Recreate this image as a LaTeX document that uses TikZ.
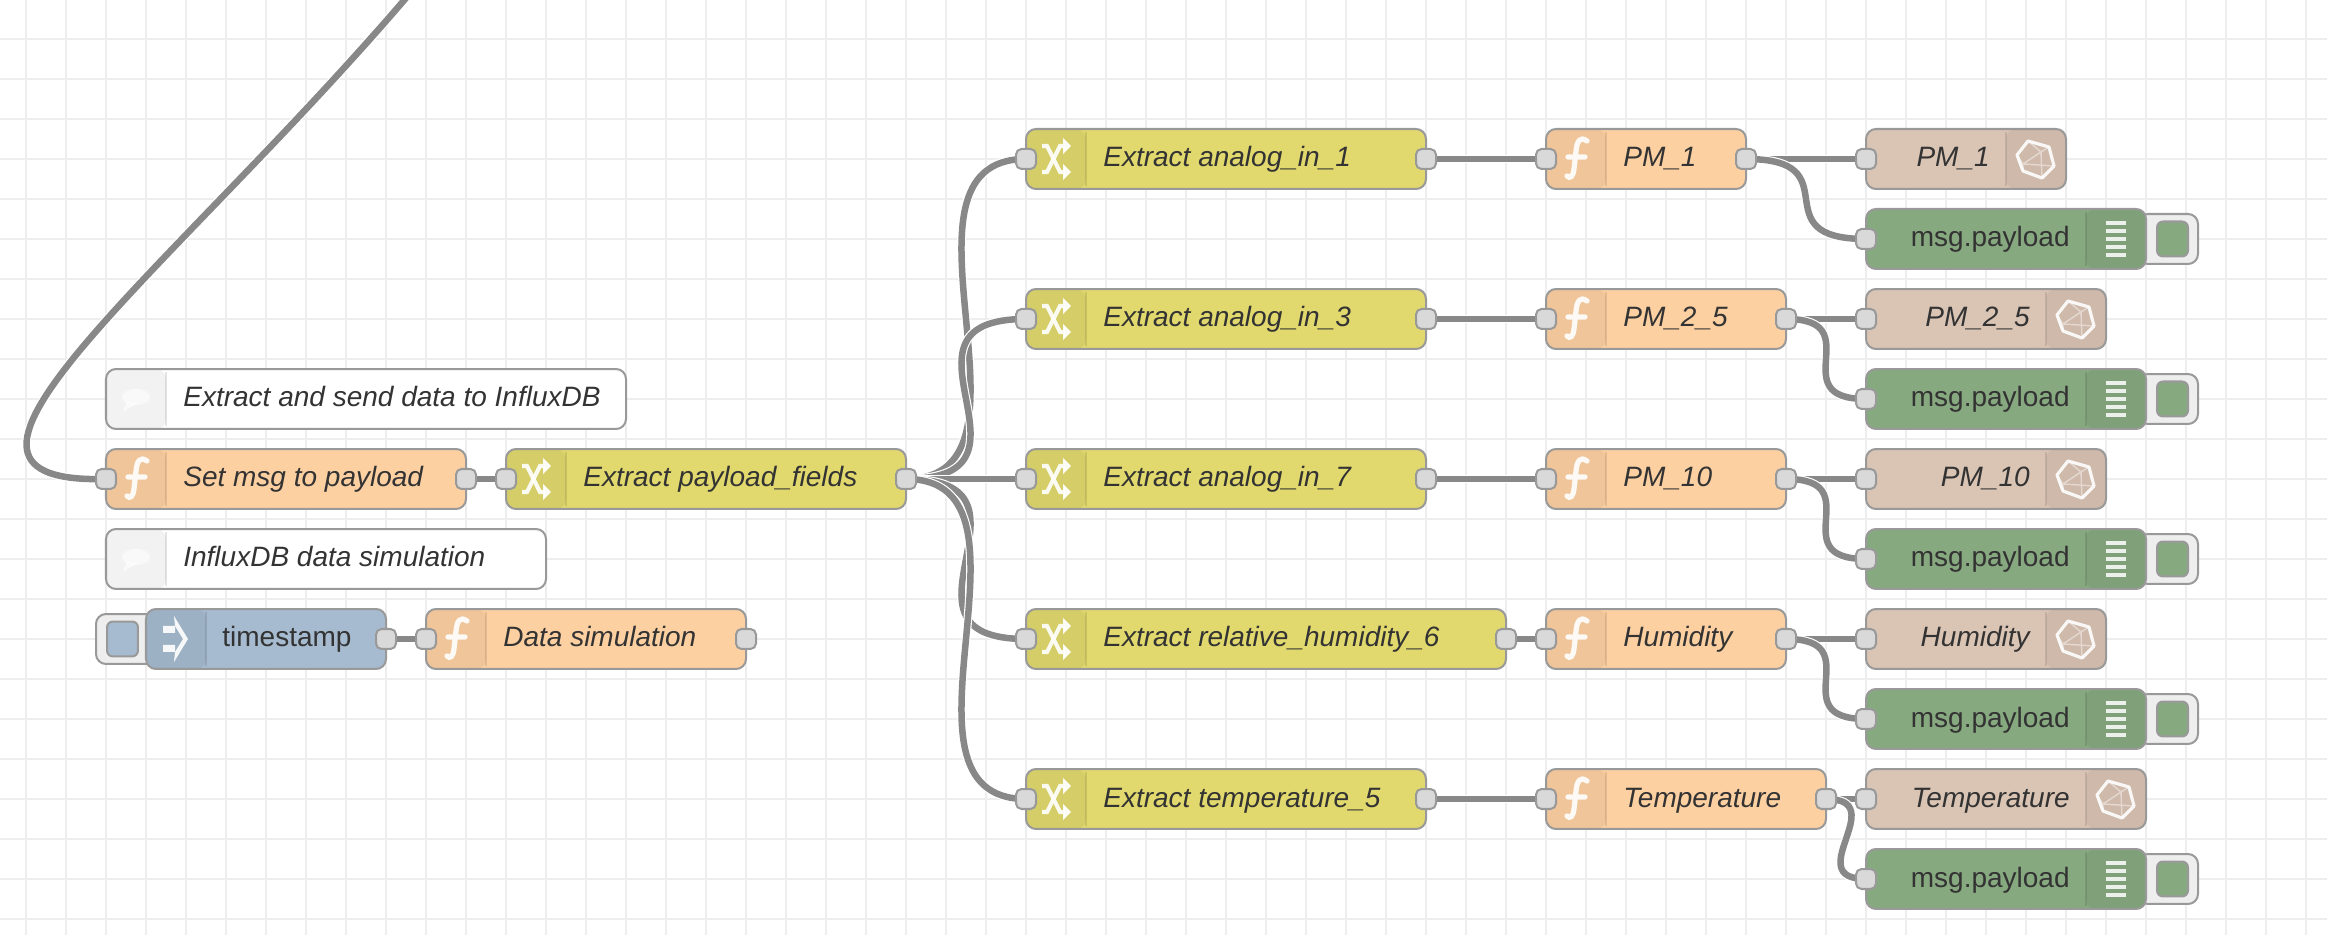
\documentclass[tikz,border=0pt]{standalone}
\usepackage{fontspec}
\setmainfont{Liberation Sans}
\usetikzlibrary{positioning,backgrounds,arrows.meta}
\definecolor{gridcol}{HTML}{EEEEEE}
\definecolor{edgecol}{HTML}{999999}
\definecolor{wirecol}{HTML}{888888}
\definecolor{portcol}{HTML}{D9D9D9}
\definecolor{textcol}{HTML}{333333}
\definecolor{fncol}{HTML}{FDD0A2}
\definecolor{fntab}{HTML}{F0C599}
\definecolor{chcol}{HTML}{E2D96E}
\definecolor{chtab}{HTML}{D5CD68}
\definecolor{cmtab}{HTML}{F2F2F2}
\definecolor{injcol}{HTML}{A6BBCF}
\definecolor{injtab}{HTML}{9DB1C4}
\definecolor{dbcol}{HTML}{87A980}
\definecolor{dbtab}{HTML}{7FA079}
\definecolor{incol}{HTML}{DAC4B4}
\definecolor{intab}{HTML}{CEB9AA}
\definecolor{btncol}{HTML}{EEEEEE}

\tikzset{
  pics/fnicon/.style={code={
    \draw[white,opacity=.9,line width=3pt,line cap=round]
      (11,-18) .. controls (4,-23) and (1,-18) .. (0,-8) -- (-2,10) .. controls (-3,18) and (-6,20) .. (-9,17)
      (-8,-2) -- (9,-2);
  }},
  pics/chicon/.style={code={
    \draw[white,opacity=.9,line width=2.3pt,-{Triangle[length=.16cm,width=.32cm]}]
      (-14,-13) -- (-9,-13) -- (4,13) -- (15,13);
    \draw[white,opacity=.9,line width=2.3pt,-{Triangle[length=.16cm,width=.32cm]}]
      (-14,13) -- (-9,13) -- (4,-13) -- (15,-13);
  }},
  pics/cmicon/.style={code={
    \fill[white,opacity=.6] (0,-2) ellipse (14 and 8);
    \fill[white,opacity=.6] (-9,2) -- (-13,13) -- (0,5) -- cycle;
  }},
  pics/injicon/.style={code={
    \fill[white,opacity=.9] (-13,-13) rectangle (-1,-6) (-13,6) rectangle (-1,13);
    \fill[white,opacity=.9] (-2,-23) -- (12,0) -- (-2,23) -- (-1,13) -- (7,0) -- (-1,-13) -- cycle;
  }},
  pics/dbicon/.style={code={
    \foreach \b in {-16,-8,0,8,16} {
      \draw[white,opacity=.85,line width=2.2pt] (-10,\b) -- (10,\b);
    }
  }},
  pics/inicon/.style={code={
    \draw[white,opacity=.9,line width=1.8pt,line join=round]
      (-7,-18) -- (14,-12) -- (19,7) -- (7,19) -- (-12,12) -- (-18,-4) -- cycle;
    \draw[white,opacity=.45,line width=.8pt]
      (-7,-18) -- (6,-7) -- (14,-12) (6,-7) -- (7,19) (6,-7) -- (-12,5) -- (-18,-4)
      (-12,5) -- (-12,12) (-12,5) -- (19,7);
  }},
}

\begin{document}
\begin{tikzpicture}[
    x=.02cm,y=-.02cm,
    gridline/.style={gridcol,line width=1.14pt},
    wire/.style={wirecol,line width=3.7pt,preaction={draw=white,line width=5pt}},
    flow/.style={rectangle,draw=edgecol,line width=1.14pt,rounded corners=.2cm,minimum height=1.2cm,anchor=west,inner sep=0pt,outer sep=0pt},
    lefttab/.style={path picture={
      \fill[#1] (path picture bounding box.north west) rectangle ++(60,60);
      \draw[black,opacity=.1,line width=1.14pt] ([shift={(60,3)}]path picture bounding box.north west) -- ++(0,54);
    }},
    righttab/.style={path picture={
      \fill[#1] (path picture bounding box.north east) rectangle ++(-60,60);
      \draw[black,opacity=.1,line width=1.14pt] ([shift={(-60,3)}]path picture bounding box.north east) -- ++(0,54);
    }},
    fnnode/.style={flow,fill=fncol,lefttab=fntab},
    chnode/.style={flow,fill=chcol,lefttab=chtab},
    cmnode/.style={flow,fill=white,lefttab=cmtab},
    injnode/.style={flow,fill=injcol,lefttab=injtab},
    dbnode/.style={flow,fill=dbcol,righttab=dbtab},
    innode/.style={flow,fill=incol,righttab=intab},
    port/.style={rectangle,draw=edgecol,fill=portcol,line width=1.14pt,rounded corners=.11cm,minimum size=.4cm,inner sep=0pt},
    btn/.style={rectangle,draw=edgecol,fill=btncol,line width=1.14pt,rounded corners=.2cm,minimum height=1cm,anchor=west,inner sep=0pt},
    btnin/.style={rectangle,draw=edgecol,fill=#1,line width=1.14pt,rounded corners=.12cm,minimum width=.62cm,minimum height=.7cm,inner sep=0pt},
    txt/.style={font=\fontsize{15.94}{18}\selectfont,text=textcol,inner sep=0pt},
    lefttxt/.style={txt,font=\fontsize{15.94}{18}\selectfont\itshape,anchor=base west},
    righttxt/.style={txt,font=\fontsize{15.94}{18}\selectfont\itshape,anchor=base east},
  ]
  \useasboundingbox (0,0) rectangle (2327,935);

  \begin{scope}[on background layer]
    \fill[white] (0,0) rectangle (2327,935);
    \foreach \x in {26,66,...,2306} {
      \draw[gridline] (\x,0) -- (\x,935);
    }
    \foreach \y in {39,79,...,919} {
      \draw[gridline] (0,\y) -- (2327,\y);
    }
  \end{scope}

  % comments
  \foreach \nm/\x/\y/\w/\lab in {cm1/106/399/520/Extract and send data to InfluxDB,cm2/106/559/440/InfluxDB data simulation} {
    \node[cmnode,minimum width=\w*.02cm] (\nm) at (\x,\y) {};
    \pic[shift={(30,0)}] at (\nm.west) {cmicon};
    \node[lefttxt] (\nm-t) at ([shift={(77,8)}]\nm.west) {\lab};
  }

  % function nodes
  \foreach \nm/\x/\y/\w/\lab in {setmsg/106/479/360/Set msg to payload,datasim/426/639/320/Data simulation,
      pm1/1546/159/200/PM\_1,pm25/1546/319/240/PM\_2\_5,pm10/1546/479/240/PM\_10,hum/1546/639/240/Humidity,temp/1546/799/280/Temperature} {
    \node[fnnode,minimum width=\w*.02cm] (\nm) at (\x,\y) {};
    \pic[shift={(30,0)}] at (\nm.west) {fnicon};
    \node[lefttxt] (\nm-t) at ([shift={(77,8)}]\nm.west) {\lab};
    \node[port] (\nm-i) at (\nm.west) {};
    \node[port] (\nm-o) at (\nm.east) {};
  }

  % change nodes
  \foreach \nm/\x/\y/\w/\lab in {expay/506/479/400/Extract payload\_fields,ex1/1026/159/400/Extract analog\_in\_1,ex3/1026/319/400/Extract analog\_in\_3,
      ex7/1026/479/400/Extract analog\_in\_7,exh/1026/639/480/Extract relative\_humidity\_6,ext/1026/799/400/Extract temperature\_5} {
    \node[chnode,minimum width=\w*.02cm] (\nm) at (\x,\y) {};
    \pic[shift={(30,0)}] at (\nm.west) {chicon};
    \node[lefttxt] (\nm-t) at ([shift={(77,8)}]\nm.west) {\lab};
    \node[port] (\nm-i) at (\nm.west) {};
    \node[port] (\nm-o) at (\nm.east) {};
  }

  % inject
  \node[btn,minimum width=1.2cm] (stampb) at (95,639) {};
  \node[btnin=injcol] (stampc) at (122.5,639) {};
  \node[injnode,minimum width=240*.02cm] (stamp) at (146,639) {};
  \pic[shift={(30,0)}] at (stamp.west) {injicon};
  \node[txt,anchor=base west] (stamp-t) at ([shift={(76,8)}]stamp.west) {timestamp};
  \node[port] (stamp-o) at (stamp.east) {};

  % influx outputs
  \foreach \nm/\y/\w/\lab in {in1/159/200/PM\_1,in25/319/240/PM\_2\_5,in10/479/240/PM\_10,inh/639/240/Humidity,int/799/280/Temperature} {
    \node[innode,minimum width=\w*.02cm] (\nm) at (1866,\y) {};
    \pic[shift={(-31,0)}] at (\nm.east) {inicon};
    \node[righttxt] (\nm-t) at ([shift={(-76,8)}]\nm.east) {\lab};
    \node[port] (\nm-i) at (\nm.west) {};
  }

  % debug outputs
  \foreach \nm/\y in {db1/239,db25/399,db10/559,dbh/719,dbt/879} {
    \node[btn,minimum width=1.2cm] (\nm-b) at (2137,\y) {};
    \node[btnin=dbcol] (\nm-c) at (2172.5,\y) {};
    \node[dbnode,minimum width=280*.02cm] (\nm) at (1866,\y) {};
    \pic[shift={(-30,0)}] at (\nm.east) {dbicon};
    \node[txt,anchor=base east] (\nm-t) at ([shift={(-76,8)}]\nm.east) {msg.payload};
    \node[port] (\nm-i) at (\nm.west) {};
  }

  \coordinate (wtop) at (412,-9);
  \begin{scope}[on background layer]
    \draw[wire] (wtop) .. controls (170,275) and (-115,485) .. (setmsg-i.center);
    \foreach \a/\b/\d in {setmsg/expay/30,stamp/datasim/30,expay/ex1/150,expay/ex3/150,expay/ex7/90,expay/exh/150,expay/ext/150,
        ex1/pm1/90,ex3/pm25/90,ex7/pm10/90,exh/hum/20,ext/temp/90,
        pm1/in1/90,pm1/db1/108,pm25/in25/60,pm25/db25/85,pm10/in10/60,pm10/db10/85,hum/inh/60,hum/dbh/85,temp/int/30,temp/dbt/67} {
      \draw[wire] (\a-o.center) .. controls +(\d,0) and +(-\d,0) .. (\b-i.center);
    }
  \end{scope}
\end{tikzpicture}
\end{document}
